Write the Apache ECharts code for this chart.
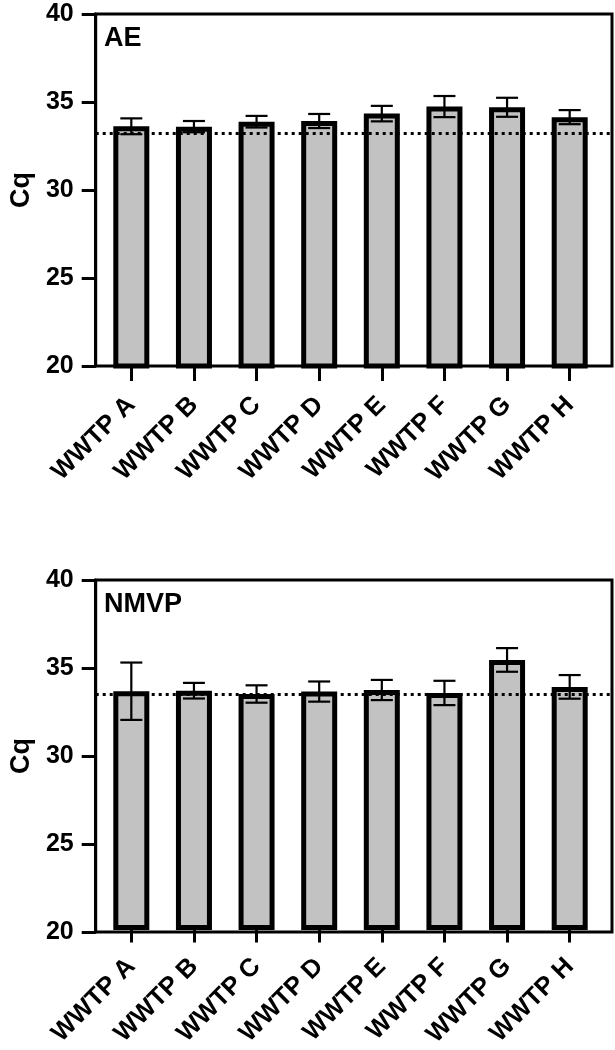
<!DOCTYPE html>
<html>
<head>
<meta charset="utf-8">
<script src="https://cdn.jsdelivr.net/npm/echarts@6/dist/echarts.min.js"></script>
<style>
html,body{margin:0;padding:0;background:#fff;}
#chart{width:615px;height:1050px;}
</style>
</head>
<body>
<div id="chart"></div>
<script>
var categories = ['WWTP A','WWTP B','WWTP C','WWTP D','WWTP E','WWTP F','WWTP G','WWTP H'];
var aeMean = [33.62, 33.6, 33.88, 33.92, 34.34, 34.74, 34.7, 34.14];
var aeSD = [0.45, 0.32, 0.33, 0.4, 0.44, 0.6, 0.54, 0.4];
var nmvpMean = [33.6, 33.63, 33.44, 33.58, 33.67, 33.5, 35.4, 33.85];
var nmvpSD = [1.65, 0.45, 0.5, 0.58, 0.58, 0.7, 0.68, 0.68];
var aeCutoff = 33.22;
var nmvpCutoff = 33.52;
var yTicks = [20, 25, 30, 35, 40];
var panelTitles = ['AE', 'NMVP'];
var yAxisName = 'Cq';

var FONT = '"Liberation Sans", Arial, sans-serif';
var chart = echarts.init(document.getElementById('chart'), null, {renderer: 'canvas'});

var panels = [
  {top: 14, mean: aeMean, sd: aeSD, cutoff: aeCutoff, title: panelTitles[0]},
  {top: 580, mean: nmvpMean, sd: nmvpSD, cutoff: nmvpCutoff, title: panelTitles[1]}
];
var H = 352;

var grids = [], xAxes = [], yAxes = [], series = [], titles = [];
panels.forEach(function (p, k) {
  var fi = k * 2, di = k * 2 + 1;
  grids.push({left: 90, right: 3, top: p.top, height: H, show: true, borderColor: '#000', borderWidth: 3, backgroundColor: 'transparent'});
  grids.push({left: 100, right: 14, top: p.top, height: H});
  xAxes.push({gridIndex: fi, type: 'value', min: 0, max: 1, show: false});
  xAxes.push({
    gridIndex: di, type: 'category', data: categories,
    axisLine: {show: false},
    axisTick: {show: true, alignWithLabel: true, length: 15, lineStyle: {color: '#000', width: 3}},
    axisLabel: {rotate: 45, margin: 35, color: '#000', fontFamily: FONT, fontWeight: 'bold', fontSize: 25.5},
    splitLine: {show: false}
  });
  yAxes.push({
    gridIndex: fi, type: 'value', min: yTicks[0], max: yTicks[yTicks.length - 1], interval: 5,
    name: yAxisName, nameLocation: 'middle', nameRotate: 90, nameGap: 57,
    nameTextStyle: {color: '#000', fontFamily: FONT, fontWeight: 'bold', fontSize: 27},
    axisLine: {show: true, lineStyle: {color: '#000', width: 3}},
    axisTick: {show: true, length: 14, lineStyle: {color: '#000', width: 3}},
    axisLabel: {margin: 22, color: '#000', fontFamily: FONT, fontWeight: 'bold', fontSize: 25},
    splitLine: {show: false}
  });
  yAxes.push({gridIndex: di, type: 'value', min: yTicks[0], max: yTicks[yTicks.length - 1], show: false});

  series.push({
    type: 'line', xAxisIndex: fi, yAxisIndex: fi, data: [], z: 1, silent: true,
    markLine: {
      symbol: 'none', silent: true, animation: false,
      label: {show: false},
      lineStyle: {color: '#000', width: 3, type: [3, 4]},
      data: [{yAxis: p.cutoff}]
    }
  });
  series.push({
    type: 'bar', xAxisIndex: di, yAxisIndex: di, data: p.mean, barWidth: 36, z: 3,
    itemStyle: {color: '#c2c2c2', borderColor: '#000', borderWidth: 5},
    animation: false
  });
  var errData = p.mean.map(function (m, i) { return [i, m - p.sd[i], m + p.sd[i]]; });
  series.push({
    type: 'custom', xAxisIndex: di, yAxisIndex: di, data: errData, z: 5, animation: false,
    renderItem: function (params, api) {
      var x = api.value(0);
      var lo = api.coord([x, api.value(1)]);
      var hi = api.coord([x, api.value(2)]);
      var w = 11;
      var st = {stroke: '#000', lineWidth: 2.2};
      return {type: 'group', children: [
        {type: 'line', shape: {x1: lo[0], y1: lo[1], x2: hi[0], y2: hi[1]}, style: st},
        {type: 'line', shape: {x1: lo[0] - w, y1: lo[1], x2: lo[0] + w, y2: lo[1]}, style: st},
        {type: 'line', shape: {x1: hi[0] - w, y1: hi[1], x2: hi[0] + w, y2: hi[1]}, style: st}
      ]};
    }
  });
  titles.push({text: p.title, left: 104, top: p.top + 11, padding: 0,
    textStyle: {color: '#000', fontFamily: FONT, fontWeight: 'bold', fontSize: 27}});
});

chart.setOption({
  animation: false,
  backgroundColor: '#fff',
  title: titles,
  grid: grids,
  xAxis: xAxes,
  yAxis: yAxes,
  series: series
});
</script>
</body>
</html>
